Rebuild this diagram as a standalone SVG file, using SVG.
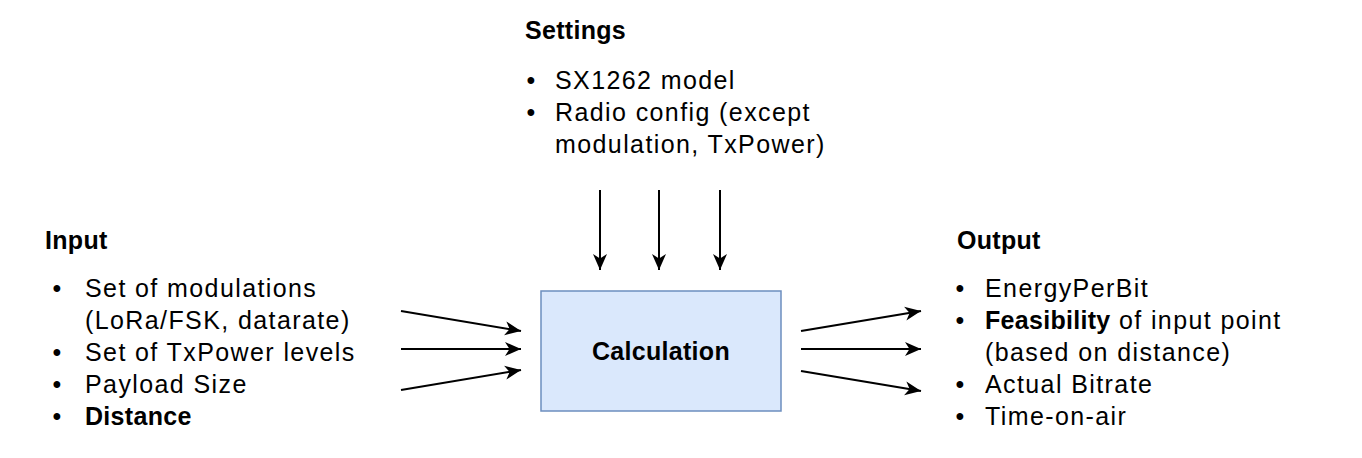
<svg xmlns="http://www.w3.org/2000/svg" width="1362" height="458" viewBox="0 0 1362 458">
<style>
text{font-family:"Liberation Sans",Arial,sans-serif;font-size:25px;fill:#000;letter-spacing:1.4px}
.b{font-weight:bold;letter-spacing:0.3px}
.d{letter-spacing:0}
.conn line{stroke:#000;stroke-width:2;fill:none}
</style>
<defs>
<marker id="arr" markerUnits="userSpaceOnUse" markerWidth="17" markerHeight="15" refX="16" refY="7" orient="auto" viewBox="0 0 17 14">
<path d="M0,0 L16,7 L0,14 L4.5,7 Z" fill="#000"/>
</marker>
</defs>
<rect width="1362" height="458" fill="#fff"/>
<g id="settings">
<text class="b" x="525" y="39">Settings</text>
<text class="d" x="526.5" y="89">•</text><text x="555" y="89">SX1262 model</text>
<text class="d" x="526.5" y="121">•</text><text x="555" y="121">Radio config (except</text>
<text x="555" y="153">modulation, TxPower)</text>
</g>
<g id="input">
<text class="b" x="45" y="249">Input</text>
<text class="d" x="52.5" y="297">•</text><text x="85" y="297">Set of modulations</text>
<text x="85" y="329">(LoRa/FSK, datarate)</text>
<text class="d" x="52.5" y="361">•</text><text x="85" y="361">Set of TxPower levels</text>
<text class="d" x="52.5" y="393">•</text><text x="85" y="393">Payload Size</text>
<text class="d" x="52.5" y="425">•</text><text class="b" x="85" y="425">Distance</text>
</g>
<g id="calculation">
<rect x="541" y="291" width="240" height="120" fill="#dae8fc" stroke="#6c8ebf" stroke-width="1.5"/>
<text class="b" x="661" y="360" text-anchor="middle">Calculation</text>
</g>
<g id="output">
<text class="b" x="957" y="249">Output</text>
<text class="d" x="955.5" y="297">•</text><text x="985" y="297">EnergyPerBit</text>
<text class="d" x="955.5" y="329">•</text><text x="985" y="329"><tspan class="b">Feasibility</tspan> of input point</text>
<text x="985" y="361">(based on distance)</text>
<text class="d" x="955.5" y="393">•</text><text x="985" y="393">Actual Bitrate</text>
<text class="d" x="955.5" y="425">•</text><text x="985" y="425">Time-on-air</text>
</g>
<g class="conn" id="connectors">
<line x1="600" y1="190" x2="600" y2="270" marker-end="url(#arr)"/>
<line x1="659" y1="190" x2="659" y2="270" marker-end="url(#arr)"/>
<line x1="720" y1="190" x2="720" y2="270" marker-end="url(#arr)"/>
<line x1="401" y1="311" x2="521" y2="331" marker-end="url(#arr)"/>
<line x1="401" y1="349" x2="521" y2="349" marker-end="url(#arr)"/>
<line x1="401" y1="390" x2="521" y2="370" marker-end="url(#arr)"/>
<line x1="801" y1="331" x2="921" y2="311" marker-end="url(#arr)"/>
<line x1="801" y1="349" x2="921" y2="349" marker-end="url(#arr)"/>
<line x1="801" y1="371" x2="921" y2="391" marker-end="url(#arr)"/>
</g>
</svg>
